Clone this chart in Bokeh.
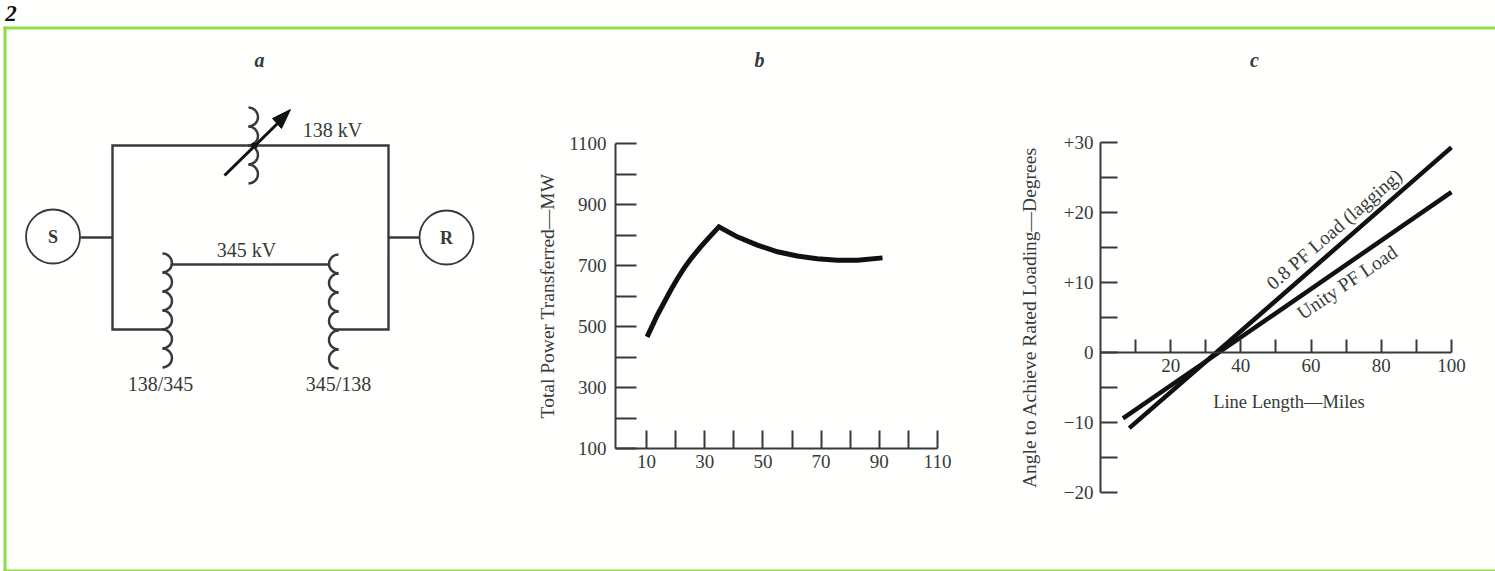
from bokeh.plotting import figure
from bokeh.models import Range1d, FixedTicker, Label
from bokeh.core.properties import value
from bokeh.embed import file_html
from bokeh.resources import INLINE

FONT = "Liberation Serif"
INK = "#343b39"
BLACK = "#0e1211"
GREEN = "#8edc45"
PAPER = "#fffffd"

# Panel b
b_miles = [10.2, 13.7, 16.0, 18.3, 20.5, 22.8, 25.5, 28.6, 31.7, 34.9, 41.2, 48.1, 55, 61.8, 68.7, 75.6, 82.5, 91.1]
b_power = [466, 537, 578, 619, 655, 690, 725, 761, 794, 827, 794, 767, 745, 731, 722, 717, 717, 725]
b_xticks = [10, 20, 30, 40, 50, 60, 70, 80, 90, 100, 110]
b_xlabels = ["10", "", "30", "", "50", "", "70", "", "90", "", "110"]
b_yticks = [100, 200, 300, 400, 500, 600, 700, 800, 900, 1000, 1100]
b_ylabels = ["100", "", "300", "", "500", "", "700", "", "900", "", "1100"]

# Panel c
c_pf08_miles = [8.2, 33, 100]
c_pf08_angle = [-10.8, 0, 29.3]
c_unity_miles = [6.4, 33.7, 100]
c_unity_angle = [-9.4, 0, 22.9]
c_xticks = [10, 20, 30, 40, 50, 60, 70, 80, 90, 100]
c_xlabels = ["", "20", "", "40", "", "60", "", "80", "", "100"]
c_yticks = [-20, -15, -10, -5, 0, 5, 10, 15, 20, 25, 30]
c_ylabels = ["\u221220", "", "\u221210", "", "0", "", "+10", "", "+20", "", "+30"]

# Panel a: one-line diagram
a_wires = [
    ([165, 112, 112, 388, 388, 333], [329, 329, 145, 145, 329, 329]),
    ([80, 112], [237, 237]),
    ([388, 419], [237, 237]),
    ([170, 328], [264, 264]),
]
a_stem = ([224, 278], [175, 122])
a_nodes = [("S", 52.5, 236), ("R", 446, 237)]
a_coils = [(248, 107, 4, 1), (162, 253, 6, 1), (338, 254, 6, -1)]
a_labels = [("138 kV", 332, 129), ("345 kV", 246, 249), ("138/345", 160, 383), ("345/138", 338, 383)]
a_arrow_x = [290, 272, 281]
a_arrow_y = [109, 118, 128]
a_dot = (254, 145)
a_letters = [("a", 259, 59), ("b", 759, 59), ("c", 1254, 59)]

PAGE_W, PAGE_H = 1495, 571


def absolute(left):
    return {"position": "absolute", "left": f"{left}px", "top": "0px"}


def style_axis(ax, ticks, labels):
    ax.ticker = FixedTicker(ticks=ticks)
    ax.minor_tick_line_color = None
    ax.major_label_overrides = dict(zip(ticks, labels))
    ax.axis_line_color = INK
    ax.axis_line_width = 2
    ax.major_tick_line_color = INK
    ax.major_tick_line_width = 2
    ax.major_tick_out = 0
    ax.major_label_text_font = FONT
    ax.major_label_text_font_size = "19px"
    ax.major_label_text_color = INK
    ax.axis_label_text_font = FONT
    ax.axis_label_text_font_size = "19.5px"
    ax.axis_label_text_font_style = "normal"
    ax.axis_label_text_color = INK


# ---------- base sheet: frame and panel a
pa = figure(width=PAGE_W, height=PAGE_H, x_range=Range1d(0, PAGE_W), y_range=Range1d(PAGE_H, 0),
            output_backend="svg", toolbar_location=None, min_border=0, outline_line_color=None,
            x_axis_location=None, y_axis_location=None, styles=absolute(0),
            background_fill_color=PAPER, border_fill_color=PAPER)
pa.grid.visible = False
pa.quad(left=[3], right=[6], top=[26], bottom=[571], fill_color=GREEN, line_color=None)
pa.quad(left=[3], right=[PAGE_W], top=[26], bottom=[29], fill_color=GREEN, line_color=None)
pa.quad(left=[3], right=[PAGE_W], top=[569], bottom=[571], fill_color=GREEN, line_color=None)
for xs, ys in a_wires:
    pa.line(xs, ys, line_color=INK, line_width=2.4, line_join="miter")
pa.line(a_stem[0], a_stem[1], line_color=BLACK, line_width=3)
for name, cx, cy in a_nodes:
    pa.circle([cx], [cy], radius=27, fill_color=PAPER, line_color=INK, line_width=1.8)
    pa.text([cx], [cy], text=[name], text_font=value(FONT), text_font_size="18px", text_font_style="bold",
            text_color=INK, text_align="center", text_baseline="middle")
R_C = 9.5
for cx, y0, n, side in a_coils:
    for k in range(n):
        start, end = (-1.5708, 1.5708) if side > 0 else (1.5708, -1.5708)
        pa.arc([cx], [y0 + R_C + 2 * R_C * k], radius=R_C, start_angle=start, end_angle=end,
               line_color=INK, line_width=2.4)
pa.patch(a_arrow_x, a_arrow_y, fill_color=BLACK, line_color=BLACK)
pa.circle([a_dot[0]], [a_dot[1]], radius=3.2, fill_color=BLACK, line_color=None)
for t, x, y in a_labels:
    pa.text([x], [y], text=[t], text_font=value(FONT), text_font_size="20px", text_color=INK,
            text_align="center", text_baseline="middle")
pa.text([10.5], [13], text=["2"], text_font=value(FONT), text_font_size="23px", text_font_style="bold italic",
        text_color=BLACK, text_align="center", text_baseline="middle")
for t, x, y in a_letters:
    pa.text([x], [y], text=[t], text_font=value(FONT), text_font_size="20px", text_font_style="bold italic",
            text_color=INK, text_align="center", text_baseline="middle")

# ---------- b
XB, WB = 500, 480
pb = figure(width=WB, height=PAGE_H, x_range=Range1d(-0.66, 110), y_range=Range1d(100, 1100),
            frame_width=322, frame_height=305, min_border_left=115, min_border_right=WB - 115 - 322,
            min_border_top=143, min_border_bottom=PAGE_H - 448,
            output_backend="svg", toolbar_location=None, outline_line_color=None,
            background_fill_color=None, border_fill_color=None, styles=absolute(XB))
pb.grid.visible = False
style_axis(pb.xaxis[0], b_xticks, b_xlabels)
style_axis(pb.yaxis[0], b_yticks, b_ylabels)
pb.xaxis[0].major_tick_in = 18
pb.yaxis[0].major_tick_in = 21
pb.xaxis[0].major_label_standoff = 6
pb.yaxis[0].major_label_standoff = 9
pb.yaxis[0].axis_label = "Total Power Transferred\u2014MW"
pb.yaxis[0].axis_label_standoff = 8
pb.line(b_miles, b_power, line_color=BLACK, line_width=5, line_join="miter")
pb.add_layout(Label(x=66.8, y=-34, text="Line Length\u2014Miles", text_font=FONT, text_font_size="18.5px",
                    text_color=INK, text_align="center", text_baseline="middle"))

# ---------- c
XC, WC = 980, 515
pc = figure(width=WC, height=PAGE_H, x_range=Range1d(0, 104.3), y_range=Range1d(-20, 30),
            frame_width=366, frame_height=350, min_border_left=120, min_border_right=WC - 120 - 366,
            min_border_top=142, min_border_bottom=PAGE_H - 492,
            output_backend="svg", toolbar_location=None, outline_line_color=None,
            background_fill_color=None, border_fill_color=None, styles=absolute(XC))
pc.grid.visible = False
style_axis(pc.xaxis[0], c_xticks, c_xlabels)
style_axis(pc.yaxis[0], c_yticks, c_ylabels)
pc.xaxis[0].fixed_location = 0
pc.xaxis[0].bounds = (0, 100)
pc.xaxis[0].major_tick_in = 13
pc.yaxis[0].major_tick_in = 17
pc.xaxis[0].major_label_standoff = 6
pc.yaxis[0].major_label_standoff = 7
pc.yaxis[0].axis_label = "Angle to Achieve Rated Loading\u2014Degrees"
pc.yaxis[0].axis_label_standoff = 21
pc.line(c_pf08_miles, c_pf08_angle, line_color=BLACK, line_width=4.5)
pc.line(c_unity_miles, c_unity_angle, line_color=BLACK, line_width=4.5)
pc.text([66.6], [17.6], text=["0.8 PF Load (lagging)"], angle=41, angle_units="deg", text_font=value(FONT),
        text_font_size="19.5px", text_color=INK, text_align="center", text_baseline="middle")
pc.text([70.3], [10], text=["Unity PF Load"], angle=34, angle_units="deg", text_font=value(FONT),
        text_font_size="19.5px", text_color=INK, text_align="center", text_baseline="middle")
pc.text([53.7], [-7], text=["Line Length\u2014Miles"], text_font=value(FONT), text_font_size="18.5px",
        text_color=INK, text_align="center", text_baseline="middle")

open("out.html", "w").write(file_html([pa, pb, pc], INLINE))
